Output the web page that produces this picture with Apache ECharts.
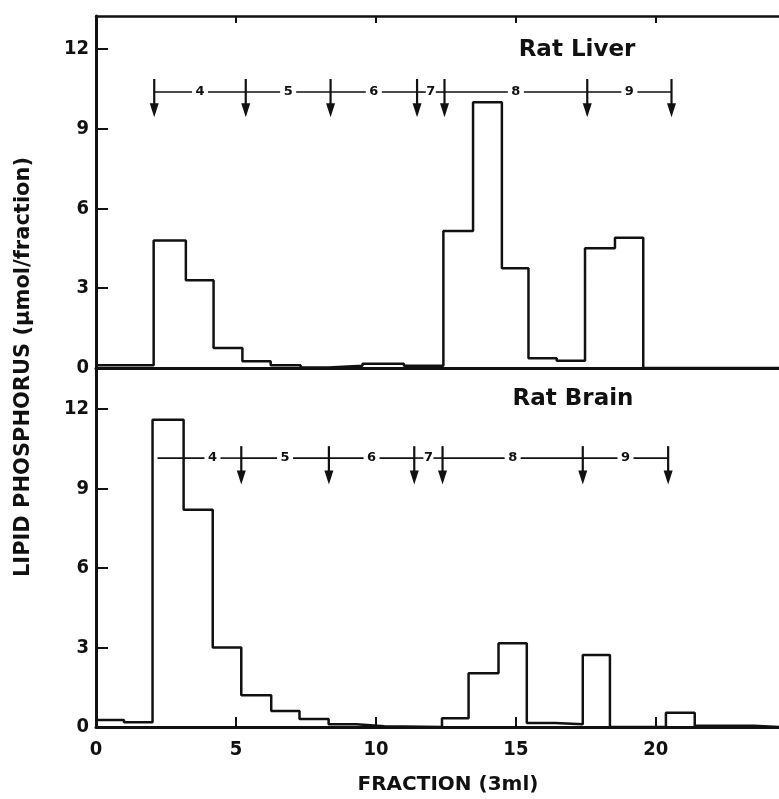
<!DOCTYPE html>
<html><head><meta charset="utf-8">
<script src="https://cdn.jsdelivr.net/npm/echarts@6/dist/echarts.min.js"></script>
<style>html,body{margin:0;padding:0;background:#fff}#c{width:779px;height:799px}</style>
</head><body><div id="c"></div>
<script>
// ---- data ----
const xTicks = [0, 5, 10, 15, 20];
const yTicks = [0, 3, 6, 9, 12];
const panelTitles = ['Rat Liver', 'Rat Brain'];
const xName = 'FRACTION (3ml)';
const yName = 'LIPID PHOSPHORUS (\u00b5mol/fraction)';

// Rat Liver: step edges (fraction) and lipid phosphorus per step
const liverEdges  = [0, 2.06, 3.21, 4.20, 5.23, 6.24, 7.31, 8.31, 9.52, 11.0, 12.41, 13.47, 14.50, 15.45, 16.46, 17.47, 18.54, 19.55, 24.4];
const liverValues = [0.1, 4.8, 3.3, 0.75, 0.25, 0.1, 0.02, 0.08, 0.16, 0.08, 5.15, 10.0, 3.75, 0.37, 0.27, 4.5, 4.9, 0];

// Rat Brain
const brainEdges  = [0, 1.0, 2.02, 3.13, 4.17, 5.19, 6.26, 7.27, 8.31, 9.3, 10.3, 12.36, 13.31, 14.38, 15.39, 16.4, 17.39, 18.36, 20.36, 21.39, 23.5, 24.4];
const brainValues = [0.26, 0.18, 11.6, 8.2, 3.0, 1.2, 0.6, 0.3, 0.1, 0.03, 0, 0.33, 2.03, 3.16, 0.15, 0.1, 2.72, 0, 0.54, 0.05, 0];

// Pool cut points (arrows) and pool numbers
const liverCuts = [2.08, 5.35, 8.38, 11.47, 12.45, 17.55, 20.56];
const brainCuts = [3.13, 5.19, 8.32, 11.37, 12.38, 17.39, 20.44];
const brainLineStart = 2.2;
const poolLabels = ['4', '5', '6', '7', '8', '9'];

// ---- build ----
function stepData(edges, vals) {
  const d = vals.map((v, i) => [edges[i], v]);
  d.push([edges[edges.length - 1], vals[vals.length - 1]]);
  return d;
}
const INK = '#111';
const numFont = "'Liberation Sans Narrow','DejaVu Sans Condensed','DejaVu Sans',sans-serif";

function segSeries(xi, yi, cuts, lineY, firstStart) {
  const data = [];
  for (let i = 0; i < cuts.length - 1; i++) {
    data.push([cuts[i], cuts[i + 1], i === 0 && firstStart != null ? firstStart : cuts[i]]);
  }
  return {
    type: 'custom', xAxisIndex: xi, yAxisIndex: yi, silent: true, z: 5,
    data: data,
    renderItem: function (params, api) {
      const a = api.coord([api.value(0), lineY]);
      const b = api.coord([api.value(1), lineY]);
      const s = api.coord([api.value(2), lineY]);
      const mid = (a[0] + b[0]) / 2;
      const lab = poolLabels[params.dataIndex];
      const gap = lab === '7' ? 5 : 8;
      return {
        type: 'group', children: [
          { type: 'line', shape: { x1: s[0], y1: a[1], x2: mid - gap, y2: a[1] }, style: { stroke: INK, lineWidth: 1.6 } },
          { type: 'line', shape: { x1: mid + gap, y1: a[1], x2: b[0], y2: a[1] }, style: { stroke: INK, lineWidth: 1.6 } },
          { type: 'text', x: mid, y: a[1], style: { text: lab, textAlign: 'center', textVerticalAlign: 'middle', font: "bold 13px 'DejaVu Sans', sans-serif", fill: INK } }
        ]
      };
    }
  };
}
function arrowSeries(xi, yi, cuts, topY, tipY) {
  return {
    type: 'custom', xAxisIndex: xi, yAxisIndex: yi, silent: true, z: 6,
    data: cuts.map(c => [c]),
    renderItem: function (params, api) {
      const t = api.coord([api.value(0), topY]);
      const p = api.coord([api.value(0), tipY]);
      const hh = 14, hw = 4.5;
      return {
        type: 'group', children: [
          { type: 'line', shape: { x1: t[0], y1: t[1], x2: t[0], y2: p[1] - hh + 2 }, style: { stroke: INK, lineWidth: 2.2 } },
          { type: 'polygon', shape: { points: [[p[0] - hw, p[1] - hh], [p[0] + hw, p[1] - hh], [p[0], p[1]]] }, style: { fill: INK } }
        ]
      };
    }
  };
}

const chart = echarts.init(document.getElementById('c'), null, { renderer: 'canvas' });
const GL = 96, GW = 683;
const axisLabelStyle = { color: INK, fontFamily: numFont, fontWeight: 'bold', fontSize: 20 };
function yAx(gi, max) {
  return {
    type: 'value', gridIndex: gi, min: 0, max: max, interval: 3,
    axisLine: { show: true, lineStyle: { color: INK, width: 3 } },
    axisTick: { show: true, inside: true, length: 12, lineStyle: { color: INK, width: 2 }, customValues: yTicks },
    axisLabel: Object.assign({ margin: 7, customValues: yTicks }, axisLabelStyle),
    splitLine: { show: false }
  };
}
const option = {
  backgroundColor: '#fff',
  animation: false,
  grid: [
    { left: GL, top: 16, width: GW, height: 352 },
    { left: GL, top: 368, width: GW, height: 359 }
  ],
  xAxis: [
    { type: 'value', gridIndex: 0, min: 0, max: 24.4, position: 'bottom',
      axisLine: { lineStyle: { color: INK, width: 3 } }, axisTick: { show: false }, axisLabel: { show: false }, splitLine: { show: false } },
    { type: 'value', gridIndex: 0, min: 0, max: 24.4, interval: 5, position: 'top',
      axisLine: { lineStyle: { color: INK, width: 2.5 } },
      axisTick: { show: true, inside: true, length: 7, lineStyle: { color: INK, width: 2 }, customValues: [5, 10, 15, 20] },
      axisLabel: { show: false }, splitLine: { show: false } },
    { type: 'value', gridIndex: 1, min: 0, max: 24.4, interval: 5, position: 'bottom',
      axisLine: { lineStyle: { color: INK, width: 3 } },
      axisTick: { show: true, inside: true, length: 10, lineStyle: { color: INK, width: 2 }, customValues: xTicks },
      axisLabel: Object.assign({ margin: 13, customValues: xTicks }, axisLabelStyle),
      splitLine: { show: false } }
  ],
  yAxis: [yAx(0, 13.24), yAx(1, 13.55)],
  series: [
    { type: 'line', xAxisIndex: 0, yAxisIndex: 0, step: 'end', symbol: 'none', data: stepData(liverEdges, liverValues),
      lineStyle: { color: INK, width: 2.5 }, z: 3 },
    { type: 'line', xAxisIndex: 2, yAxisIndex: 1, step: 'end', symbol: 'none', data: stepData(brainEdges, brainValues),
      lineStyle: { color: INK, width: 2.5 }, z: 3 },
    segSeries(0, 0, liverCuts, 10.38, null),
    arrowSeries(0, 0, liverCuts, 10.87, 9.43),
    segSeries(2, 1, brainCuts, 10.15, brainLineStart),
    arrowSeries(2, 1, brainCuts.slice(1), 10.6, 9.15)
  ],
  graphic: [
    { type: 'text', x: 577, y: 50, style: { text: panelTitles[0], textAlign: 'center', textVerticalAlign: 'middle', font: "bold 23px 'DejaVu Sans', sans-serif", fill: INK } },
    { type: 'text', x: 573, y: 399, style: { text: panelTitles[1], textAlign: 'center', textVerticalAlign: 'middle', font: "bold 23px 'DejaVu Sans', sans-serif", fill: INK } },
    { type: 'text', x: 448, y: 785, style: { text: xName, textAlign: 'center', textVerticalAlign: 'middle', font: "bold 20px 'DejaVu Sans', sans-serif", fill: INK } },
    { type: 'text', x: 24, y: 367, rotation: Math.PI / 2, style: { text: yName, textAlign: 'center', textVerticalAlign: 'middle', font: "bold 21px 'DejaVu Sans', sans-serif", fill: INK } }
  ]
};
chart.setOption(option);
</script>
</body></html>
